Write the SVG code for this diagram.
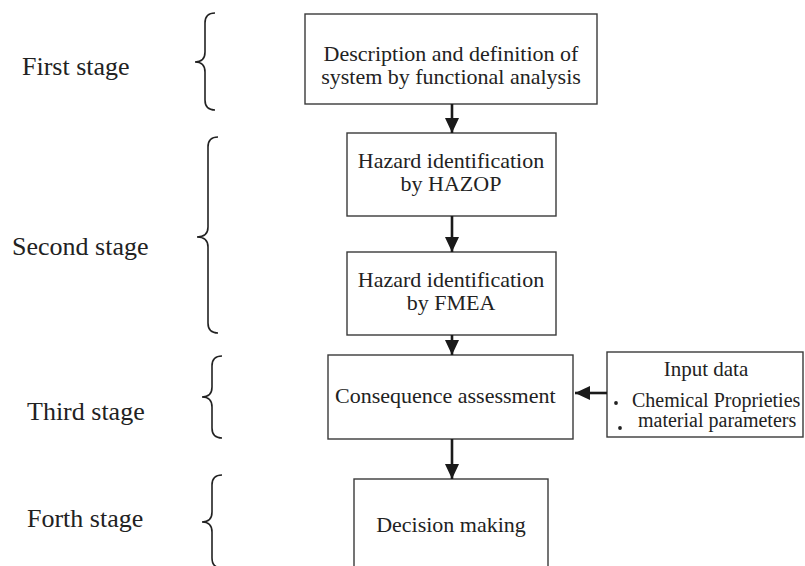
<svg xmlns="http://www.w3.org/2000/svg" width="805" height="566" viewBox="0 0 805 566">
  <style>
    .box { fill: #ffffff; stroke: #3a3a3a; stroke-width: 1.4; }
    .txt { font-family: "Liberation Serif", "Times New Roman", serif; font-size: 22px; fill: #222222; }
    .small { font-family: "Liberation Serif", "Times New Roman", serif; font-size: 20px; fill: #222222; }
    .stage { font-family: "Liberation Serif", "Times New Roman", serif; font-size: 26px; fill: #222222; }
    .brace { fill: none; stroke: #222222; stroke-width: 1.6; }
    .conn { fill: none; stroke: #1a1a1a; stroke-width: 2.6; }
    .dot { fill: #222222; }
  </style>
  <defs>
    <marker id="head" markerUnits="userSpaceOnUse" markerWidth="16" markerHeight="16" viewBox="0 0 16 16" refX="15" refY="8" orient="auto">
      <path d="M0,1 L15,8 L0,15 Z" fill="#1a1a1a"/>
    </marker>
  </defs>
  <rect width="805" height="566" fill="#ffffff"/>

  <!-- stage labels and braces -->
  <g id="stage1">
    <text class="stage" x="22" y="75">First stage</text>
    <path class="brace" d="M215,13 Q205,13 205,23 L205,52 Q205,62 195,62 Q205,62 205,72 L205,100 Q205,110 215,110"/>
  </g>
  <g id="stage2">
    <text class="stage" x="12" y="255">Second stage</text>
    <path class="brace" d="M218,137 Q208,137 208,147 L208,227 Q208,237 197,237 Q208,237 208,247 L208,323 Q208,333 218,333"/>
  </g>
  <g id="stage3">
    <text class="stage" x="27" y="420">Third stage</text>
    <path class="brace" d="M222,356 Q212,356 212,366 L212,387 Q212,397 202,397 Q212,397 212,407 L212,428 Q212,438 222,438"/>
  </g>
  <g id="stage4">
    <text class="stage" x="27" y="527">Forth stage</text>
    <path class="brace" d="M222,475 Q212,475 212,485 L212,512 Q212,522 202,522 Q212,522 212,532 L212,558 Q212,568 222,568"/>
  </g>

  <!-- process boxes -->
  <g id="describe">
    <rect class="box" x="305" y="14" width="292" height="90"/>
    <text class="txt" x="451" y="61" text-anchor="middle">Description and definition of</text>
    <text class="txt" x="451" y="84" text-anchor="middle">system by functional analysis</text>
  </g>
  <g id="hazop">
    <rect class="box" x="347" y="133" width="209" height="83"/>
    <text class="txt" x="451" y="168" text-anchor="middle">Hazard identification</text>
    <text class="txt" x="451" y="191" text-anchor="middle">by HAZOP</text>
  </g>
  <g id="fmea">
    <rect class="box" x="347" y="252" width="209" height="83"/>
    <text class="txt" x="451" y="287" text-anchor="middle">Hazard identification</text>
    <text class="txt" x="451" y="310" text-anchor="middle">by FMEA</text>
  </g>
  <g id="consequence">
    <rect class="box" x="328" y="355" width="245" height="84"/>
    <text class="txt" x="335" y="403">Consequence assessment</text>
  </g>
  <g id="input">
    <rect class="box" x="607" y="352" width="196" height="85"/>
    <text class="small" x="706" y="376" text-anchor="middle" style="font-size:21px">Input data</text>
    <circle class="dot" cx="616" cy="403" r="1.9"/>
    <text class="small" x="632" y="407">Chemical Proprieties</text>
    <circle class="dot" cx="620" cy="428" r="1.9"/>
    <text class="small" x="638" y="427">material parameters</text>
  </g>
  <g id="decision">
    <rect class="box" x="354" y="479" width="194" height="95"/>
    <text class="txt" x="451" y="532" text-anchor="middle">Decision making</text>
  </g>

  <!-- connectors -->
  <g id="connectors">
    <line class="conn" x1="452" y1="104" x2="452" y2="133" marker-end="url(#head)"/>
    <line class="conn" x1="452" y1="216" x2="452" y2="252" marker-end="url(#head)"/>
    <line class="conn" x1="452" y1="335" x2="452" y2="355" marker-end="url(#head)"/>
    <line class="conn" x1="452" y1="439" x2="452" y2="479" marker-end="url(#head)"/>
    <line class="conn" x1="607" y1="393" x2="575" y2="393" marker-end="url(#head)"/>
  </g>
</svg>
